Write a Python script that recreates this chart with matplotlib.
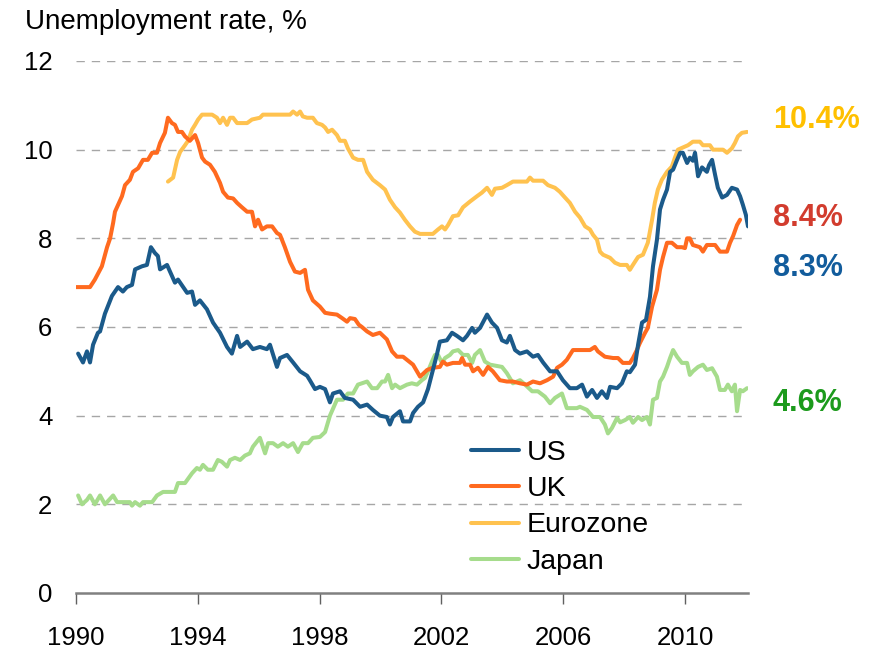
import matplotlib
matplotlib.use("Agg")
import matplotlib.pyplot as plt
import matplotlib.transforms as mtransforms

plt.rcParams['font.family'] = ['Liberation Sans', 'DejaVu Sans']

# decimal year / unemployment rate (%)
us_t = [1990.07, 1990.23, 1990.36, 1990.46, 1990.56, 1990.72, 1990.79, 1990.95, 1991.18, 1991.28,
        1991.38, 1991.54, 1991.67, 1991.84, 1991.94, 1992.17, 1992.33, 1992.46, 1992.59, 1992.69,
        1992.76, 1992.99, 1993.25, 1993.35, 1993.65, 1993.81, 1993.91, 1994.07, 1994.30, 1994.50,
        1994.73, 1994.96, 1995.12, 1995.29, 1995.39, 1995.62, 1995.81, 1996.04, 1996.27, 1996.37,
        1996.60, 1996.70, 1996.93, 1997.13, 1997.36, 1997.59, 1997.68, 1997.85, 1998.01, 1998.18,
        1998.34, 1998.44, 1998.67, 1998.83, 1999.10, 1999.33, 1999.56, 1999.75, 1999.98, 2000.21,
        2000.31, 2000.41, 2000.64, 2000.74, 2000.97, 2001.07, 2001.23, 2001.40, 2001.56, 2001.72,
        2001.86, 2001.95, 2002.18, 2002.35, 2002.51, 2002.71, 2002.84, 2003.01, 2003.10, 2003.27,
        2003.50, 2003.66, 2003.83, 2003.99, 2004.15, 2004.25, 2004.42, 2004.58, 2004.81, 2005.01,
        2005.17, 2005.34, 2005.57, 2005.80, 2005.99, 2006.22, 2006.45, 2006.62, 2006.78, 2006.95,
        2007.11, 2007.27, 2007.44, 2007.54, 2007.77, 2007.93, 2008.09, 2008.19, 2008.36, 2008.46,
        2008.59, 2008.72, 2008.85, 2008.95, 2009.08, 2009.18, 2009.28, 2009.41, 2009.51, 2009.61,
        2009.74, 2009.84, 2009.93, 2010.07, 2010.16, 2010.26, 2010.33, 2010.43, 2010.56, 2010.72,
        2010.79, 2010.89, 2010.99, 2011.08, 2011.22, 2011.38, 2011.54, 2011.71, 2011.81, 2011.90,
        2012.00, 2012.07]
us_v = [5.4, 5.2, 5.45, 5.2, 5.6, 5.87, 5.9, 6.3, 6.7, 6.8,
        6.9, 6.8, 6.9, 6.95, 7.3, 7.37, 7.4, 7.8, 7.67, 7.6,
        7.3, 7.4, 7.0, 7.07, 6.77, 6.8, 6.5, 6.6, 6.4, 6.1,
        5.87, 5.55, 5.4, 5.8, 5.55, 5.67, 5.5, 5.55, 5.5, 5.6,
        5.1, 5.3, 5.37, 5.2, 5.0, 4.9, 4.8, 4.6, 4.65, 4.6,
        4.3, 4.5, 4.55, 4.4, 4.36, 4.2, 4.25, 4.13, 4.0, 3.97,
        3.8, 3.97, 4.1, 3.87, 3.87, 4.06, 4.2, 4.3, 4.6, 5.03,
        5.4, 5.67, 5.7, 5.87, 5.8, 5.7, 5.8, 5.98, 5.87, 5.98,
        6.28, 6.1, 5.98, 5.7, 5.65, 5.8, 5.48, 5.4, 5.45, 5.33,
        5.37, 5.2, 5.0, 5.0, 4.8, 4.62, 4.62, 4.7, 4.43, 4.58,
        4.4, 4.55, 4.4, 4.65, 4.62, 4.73, 5.0, 4.98, 5.15, 5.6,
        6.1, 6.16, 6.68, 7.37, 7.97, 8.65, 8.87, 9.1, 9.5, 9.55,
        9.77, 9.93, 9.93, 9.7, 9.82, 9.75, 9.93, 9.4, 9.6, 9.5,
        9.65, 9.77, 9.43, 9.14, 8.92, 8.98, 9.14, 9.1, 8.95, 8.76,
        8.53, 8.27]

uk_t = [1990.00, 1990.46, 1990.62, 1990.85, 1991.02, 1991.12, 1991.22, 1991.28, 1991.38, 1991.51,
        1991.61, 1991.77, 1991.87, 1992.04, 1992.20, 1992.36, 1992.50, 1992.66, 1992.76, 1992.92,
        1993.02, 1993.15, 1993.25, 1993.35, 1993.48, 1993.58, 1993.74, 1993.91, 1994.01, 1994.14,
        1994.24, 1994.40, 1994.56, 1994.73, 1994.83, 1994.99, 1995.16, 1995.29, 1995.45, 1995.62,
        1995.78, 1995.88, 1995.98, 1996.11, 1996.27, 1996.44, 1996.60, 1996.70, 1996.86, 1997.03,
        1997.19, 1997.36, 1997.52, 1997.62, 1997.78, 1998.01, 1998.18, 1998.34, 1998.57, 1998.74,
        1998.90, 1999.00, 1999.16, 1999.29, 1999.39, 1999.56, 1999.75, 1999.98, 2000.21, 2000.38,
        2000.54, 2000.74, 2000.87, 2001.07, 2001.20, 2001.30, 2001.53, 2001.72, 2001.95, 2002.05,
        2002.18, 2002.38, 2002.61, 2002.68, 2002.78, 2002.94, 2003.04, 2003.20, 2003.37, 2003.53,
        2003.69, 2003.92, 2004.15, 2004.35, 2004.58, 2004.81, 2005.01, 2005.24, 2005.47, 2005.67,
        2005.80, 2005.96, 2006.12, 2006.32, 2006.55, 2006.88, 2007.04, 2007.14, 2007.37, 2007.64,
        2007.80, 2007.96, 2008.19, 2008.29, 2008.42, 2008.52, 2008.69, 2008.78, 2008.92, 2009.08,
        2009.18, 2009.28, 2009.41, 2009.57, 2009.74, 2009.90, 2010.00, 2010.07, 2010.16, 2010.26,
        2010.49, 2010.59, 2010.72, 2010.99, 2011.15, 2011.38, 2011.48, 2011.58, 2011.71, 2011.81]
uk_v = [6.9, 6.9, 7.07, 7.37, 7.8, 8.0, 8.35, 8.6, 8.75, 8.95,
        9.2, 9.32, 9.5, 9.58, 9.77, 9.77, 9.93, 9.93, 10.15, 10.38,
        10.72, 10.6, 10.56, 10.4, 10.4, 10.3, 10.2, 10.33, 10.15, 9.82,
        9.73, 9.66, 9.5, 9.25, 9.05, 8.92, 8.9, 8.8, 8.7, 8.6,
        8.6, 8.27, 8.42, 8.2, 8.27, 8.27, 8.12, 8.08, 7.8, 7.47,
        7.25, 7.22, 7.29, 6.84, 6.6, 6.46, 6.32, 6.3, 6.28, 6.2,
        6.12, 6.2, 6.18, 6.05, 6.0, 5.9, 5.82, 5.87, 5.72, 5.45,
        5.33, 5.33, 5.26, 5.15, 5.0, 4.88, 5.03, 5.08, 5.1, 5.22,
        5.15, 5.19, 5.19, 5.3, 5.15, 5.15, 5.0, 5.08, 4.92, 5.1,
        5.0, 4.8, 4.77, 4.77, 4.73, 4.7, 4.77, 4.73, 4.8, 4.88,
        5.08, 5.15, 5.26, 5.48, 5.48, 5.48, 5.55, 5.45, 5.33, 5.3,
        5.3, 5.19, 5.19, 5.3, 5.48, 5.64, 5.87, 5.98, 6.46, 6.84,
        7.29, 7.58, 7.9, 7.9, 7.8, 7.8, 7.78, 8.0, 8.0, 7.85,
        7.8, 7.7, 7.85, 7.85, 7.7, 7.7, 7.9, 8.05, 8.3, 8.42]

ez_t = [1993.02, 1993.19, 1993.32, 1993.42, 1993.58, 1993.68, 1993.81, 1993.91, 1994.01, 1994.14,
        1994.47, 1994.63, 1994.73, 1994.83, 1994.96, 1995.06, 1995.16, 1995.29, 1995.62, 1995.78,
        1996.04, 1996.14, 1997.03, 1997.13, 1997.26, 1997.36, 1997.45, 1997.59, 1997.78, 1997.91,
        1998.08, 1998.18, 1998.28, 1998.41, 1998.57, 1998.67, 1998.83, 1998.93, 1999.10, 1999.26,
        1999.43, 1999.56, 1999.75, 1999.98, 2000.15, 2000.31, 2000.48, 2000.64, 2000.80, 2000.97,
        2001.13, 2001.30, 2001.72, 2001.89, 2002.02, 2002.12, 2002.22, 2002.38, 2002.55, 2002.71,
        2002.94, 2003.17, 2003.33, 2003.50, 2003.66, 2003.76, 2003.99, 2004.15, 2004.35, 2004.81,
        2004.91, 2005.01, 2005.34, 2005.50, 2005.73, 2005.89, 2006.06, 2006.22, 2006.39, 2006.55,
        2006.72, 2006.88, 2006.98, 2007.11, 2007.21, 2007.31, 2007.54, 2007.70, 2007.87, 2008.09,
        2008.19, 2008.29, 2008.46, 2008.62, 2008.78, 2008.92, 2009.01, 2009.11, 2009.24, 2009.41,
        2009.57, 2009.67, 2009.77, 2010.00, 2010.10, 2010.26, 2010.49, 2010.59, 2010.82, 2010.92,
        2011.25, 2011.38, 2011.54, 2011.64, 2011.74, 2011.87, 2012.04]
ez_v = [9.28, 9.37, 9.77, 9.95, 10.1, 10.2, 10.45, 10.56, 10.68, 10.79,
        10.79, 10.72, 10.6, 10.72, 10.56, 10.72, 10.72, 10.6, 10.6, 10.68,
        10.72, 10.79, 10.79, 10.86, 10.79, 10.86, 10.75, 10.72, 10.72, 10.6,
        10.56, 10.5, 10.4, 10.45, 10.33, 10.2, 10.2, 10.03, 9.82, 9.77,
        9.77, 9.5, 9.32, 9.2, 9.1, 8.87, 8.7, 8.58, 8.42, 8.27,
        8.15, 8.1, 8.1, 8.2, 8.27, 8.2, 8.3, 8.5, 8.52, 8.7,
        8.83, 8.95, 9.03, 9.14, 8.98, 9.12, 9.14, 9.2, 9.28, 9.28,
        9.37, 9.3, 9.3, 9.2, 9.14, 9.05, 8.92, 8.8, 8.6, 8.47,
        8.27, 8.2, 8.08, 7.97, 7.7, 7.63, 7.56, 7.45, 7.4, 7.4,
        7.29, 7.4, 7.58, 7.63, 7.9, 8.42, 8.8, 9.1, 9.32, 9.5,
        9.62, 9.82, 10.0, 10.07, 10.1, 10.18, 10.18, 10.1, 10.1, 10.0,
        10.0, 9.93, 10.03, 10.15, 10.3, 10.38, 10.4]

jp_t = [1990.07, 1990.20, 1990.36, 1990.46, 1990.62, 1990.79, 1990.95, 1991.22, 1991.35, 1991.77,
        1991.84, 1991.94, 1992.10, 1992.20, 1992.50, 1992.66, 1992.86, 1993.25, 1993.35, 1993.58,
        1993.81, 1993.97, 1994.07, 1994.17, 1994.33, 1994.50, 1994.66, 1994.79, 1994.96, 1995.06,
        1995.22, 1995.39, 1995.55, 1995.71, 1995.81, 1996.04, 1996.21, 1996.31, 1996.47, 1996.63,
        1996.80, 1996.96, 1997.13, 1997.29, 1997.45, 1997.62, 1997.78, 1998.01, 1998.18, 1998.34,
        1998.57, 1998.77, 1998.93, 1999.10, 1999.26, 1999.56, 1999.72, 1999.89, 2000.05, 2000.15,
        2000.25, 2000.38, 2000.48, 2000.64, 2000.87, 2001.03, 2001.20, 2001.36, 2001.46, 2001.56,
        2001.69, 2001.79, 2001.89, 2002.02, 2002.12, 2002.28, 2002.38, 2002.55, 2002.71, 2002.87,
        2003.01, 2003.10, 2003.27, 2003.43, 2003.60, 2003.83, 2003.99, 2004.15, 2004.35, 2004.58,
        2004.75, 2004.98, 2005.17, 2005.40, 2005.57, 2005.73, 2005.96, 2006.12, 2006.45, 2006.55,
        2006.78, 2006.98, 2007.21, 2007.37, 2007.47, 2007.60, 2007.77, 2007.87, 2008.03, 2008.19,
        2008.29, 2008.46, 2008.59, 2008.75, 2008.85, 2008.95, 2009.08, 2009.18, 2009.28, 2009.41,
        2009.51, 2009.61, 2009.74, 2009.90, 2010.07, 2010.16, 2010.26, 2010.43, 2010.59, 2010.72,
        2010.89, 2011.05, 2011.15, 2011.31, 2011.41, 2011.54, 2011.64, 2011.71, 2011.81, 2011.90,
        2012.04]
jp_v = [2.2, 2.0, 2.1, 2.2, 2.0, 2.2, 2.0, 2.2, 2.05, 2.05,
        1.97, 2.05, 1.97, 2.05, 2.05, 2.2, 2.28, 2.28, 2.48, 2.48,
        2.7, 2.82, 2.78, 2.89, 2.78, 2.78, 3.0, 2.96, 2.85, 3.0,
        3.05, 3.0, 3.1, 3.15, 3.3, 3.5, 3.15, 3.38, 3.38, 3.3,
        3.38, 3.3, 3.38, 3.18, 3.38, 3.38, 3.5, 3.52, 3.63, 4.0,
        4.36, 4.36, 4.5, 4.5, 4.7, 4.77, 4.62, 4.62, 4.77, 4.77,
        4.92, 4.62, 4.7, 4.62, 4.7, 4.73, 4.7, 4.8, 4.85, 5.0,
        5.22, 5.37, 5.37, 5.19, 5.3, 5.37, 5.45, 5.48, 5.37, 5.37,
        5.19, 5.37, 5.48, 5.22, 5.15, 5.12, 5.1, 4.96, 4.73, 4.8,
        4.7, 4.55, 4.55, 4.43, 4.28, 4.4, 4.5, 4.17, 4.17, 4.2,
        4.13, 3.97, 3.97, 3.8, 3.6, 3.72, 3.95, 3.85, 3.9, 3.97,
        3.84, 3.97, 3.9, 3.97, 3.8, 4.36, 4.4, 4.77, 4.88, 5.1,
        5.3, 5.48, 5.33, 5.19, 5.19, 4.92, 5.0, 5.1, 5.15, 5.03,
        5.07, 4.88, 4.58, 4.58, 4.7, 4.55, 4.7, 4.1, 4.58, 4.55,
        4.62]

series = ["US", "UK", "Eurozone", "Japan"]
line_colors = ["#1B5A8A", "#FF6A1F", "#FFC24F", "#A6DC8C"]

end_labels = ["10.4%", "8.4%", "8.3%", "4.6%"]
end_label_y = [10.68, 8.46, 7.34, 4.29]
end_label_colors = ["#FFC000", "#D23C2E", "#125C9C", "#1C9A1C"]

years = [1990, 1994, 1998, 2002, 2006, 2010]

fig = plt.figure(figsize=(8.78, 6.54), dpi=100)
ax = fig.add_axes([76 / 878, 61 / 654, 672 / 878, 532 / 654])

data = [(us_t, us_v), (uk_t, uk_v), (ez_t, ez_v), (jp_t, jp_v)]
# Japan first so the others sit on top
for i in [3, 2, 1, 0]:
    t, v = data[i]
    ax.plot(t, v, color=line_colors[i], lw=2.9, label=series[i],
            solid_joinstyle='round', solid_capstyle='round', zorder=3 + (3 - i))

ax.set_xlim(1990, 2012.07)
ax.set_ylim(0, 12)
ax.set_yticks(range(0, 13, 2))
ax.set_xticks(years)
ax.set_xticklabels([str(y) for y in years])

for y in range(2, 13, 2):
    ax.axhline(y, color="#A6A6A6", lw=1.0, ls=(0, (6, 5)), zorder=1)

for s in ["top", "right", "left"]:
    ax.spines[s].set_visible(False)
ax.spines["bottom"].set_color("#808080")
ax.spines["bottom"].set_linewidth(1.8)
ax.tick_params(axis="x", direction="out", length=8, width=1, color="#606060",
               labelsize=18.5, pad=16)
ax.tick_params(axis="y", length=0, labelsize=18.5, pad=17)

handles, labels = ax.get_legend_handles_labels()
order = [labels.index(s) for s in series]
leg = ax.legend([handles[k] for k in order], [labels[k] for k in order],
                loc="upper left", bbox_to_anchor=(471 / 878, 1 - 440 / 654),
                bbox_transform=fig.transFigure, frameon=False, fontsize=20.5,
                handlelength=1.68, handletextpad=0.28, labelspacing=0.36,
                borderpad=0, borderaxespad=0)

trans = mtransforms.blended_transform_factory(ax.transAxes, ax.transData)
for lab, yv, c in zip(end_labels, end_label_y, end_label_colors):
    ax.text(1.037, yv, lab, transform=trans, color=c, fontsize=22,
            fontweight="bold", va="center", ha="left", clip_on=False)

fig.text(25 / 878, 1 - 22 / 654, "Unemployment rate, %", fontsize=20,
         va="center", ha="left")

fig.savefig("out.png", dpi=100)
